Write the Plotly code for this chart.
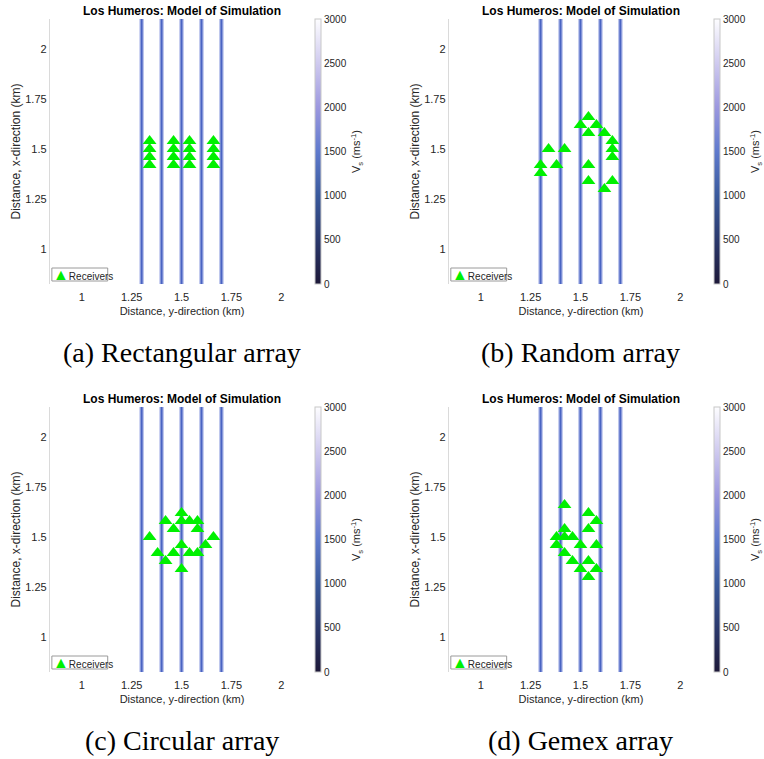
import plotly.graph_objects as go

# ---------------- data ----------------
line_positions = [1.3, 1.4, 1.5, 1.6, 1.7]          # y-direction (km) of the vertical features
tick_vals = [1, 1.25, 1.5, 1.75, 2]
tick_text = ["1", "1.25", "1.5", "1.75", "2"]
cbar_ticks = [0, 500, 1000, 1500, 2000, 2500, 3000]
cbar_limits = [0, 3000]

rect_ydir = [1.34, 1.34, 1.34, 1.34, 1.46, 1.46, 1.46, 1.46,
             1.54, 1.54, 1.54, 1.54, 1.66, 1.66, 1.66, 1.66]
rect_xdir = [1.42, 1.46, 1.50, 1.54, 1.42, 1.46, 1.50, 1.54,
             1.42, 1.46, 1.50, 1.54, 1.42, 1.46, 1.50, 1.54]

rand_ydir = [1.54, 1.50, 1.58, 1.54, 1.62, 1.66, 1.66, 1.66, 1.34,
             1.42, 1.38, 1.30, 1.30, 1.54, 1.54, 1.66, 1.62]
rand_xdir = [1.66, 1.62, 1.62, 1.58, 1.58, 1.54, 1.50, 1.46, 1.50,
             1.50, 1.42, 1.42, 1.38, 1.42, 1.34, 1.34, 1.30]

circ_ydir = [1.50, 1.42, 1.50, 1.54, 1.58, 1.46, 1.58, 1.34, 1.66,
             1.50, 1.62, 1.38, 1.46, 1.54, 1.58, 1.42, 1.50]
circ_xdir = [1.62, 1.58, 1.58, 1.58, 1.58, 1.54, 1.54, 1.50, 1.50,
             1.46, 1.46, 1.42, 1.42, 1.42, 1.42, 1.38, 1.34]

gemex_ydir = [1.42, 1.54, 1.58, 1.42, 1.54, 1.38, 1.42, 1.46, 1.38,
              1.50, 1.58, 1.42, 1.46, 1.54, 1.50, 1.58, 1.54]
gemex_xdir = [1.66, 1.62, 1.58, 1.54, 1.54, 1.50, 1.50, 1.50, 1.46,
              1.46, 1.46, 1.42, 1.38, 1.38, 1.34, 1.34, 1.30]

panels = [
    ("(a) Rectangular array", rect_ydir, rect_xdir),
    ("(b) Random array", rand_ydir, rand_xdir),
    ("(c) Circular array", circ_ydir, circ_xdir),
    ("(d) Gemex array", gemex_ydir, gemex_xdir),
]

# ---------------- styling ----------------
W, H = 764, 759
X_RANGE = [0.84, 2.165]
Y_RANGE = [0.825, 2.15]
colorscale = [
    [0.0, "#1d1838"], [0.167, "#2a386c"], [0.333, "#39599c"],
    [0.5, "#5f7acd"], [0.667, "#9c98df"], [0.833, "#cfcaef"], [1.0, "#fdfdff"],
]
SANS = "Liberation Sans, Arial, Helvetica, sans-serif"
SERIF = "Liberation Serif, Times New Roman, serif"
TXT = "#262626"

# pixel boxes of the plot areas: (left, right, top, bottom)
boxes = [(50, 315, 19, 284), (450, 715, 19, 284),
         (50, 315, 407, 672), (450, 715, 407, 672)]

fig = go.Figure()
annotations = []
shapes = []

for i, ((caption, ydir, xdir), (l, r, t, b)) in enumerate(zip(panels, boxes)):
    n = "" if i == 0 else str(i + 1)
    xa, ya = "x" + n, "y" + n
    dx = [l / W, r / W]
    dy = [1 - b / H, 1 - t / H]

    # vertical features
    for pos in line_positions:
        fig.add_trace(go.Scatter(x=[pos, pos], y=Y_RANGE, mode="lines",
                                 line=dict(color="#b3bdea", width=4.5),
                                 xaxis=xa, yaxis=ya, showlegend=False, hoverinfo="skip"))
        fig.add_trace(go.Scatter(x=[pos, pos], y=Y_RANGE, mode="lines",
                                 line=dict(color="#4a64c2", width=2),
                                 xaxis=xa, yaxis=ya, showlegend=False, hoverinfo="skip"))
    # receivers
    fig.add_trace(go.Scatter(x=ydir, y=xdir, mode="markers", name="Receivers",
                             marker=dict(symbol="triangle-up", size=12, color="#00f000",
                                         line=dict(width=0)),
                             xaxis=xa, yaxis=ya, showlegend=False))
    # colorbar carrier (invisible)
    fig.add_trace(go.Scatter(
        x=[None, None], y=[None, None], mode="markers", opacity=0,
        marker=dict(size=1, color=cbar_limits, cmin=cbar_limits[0], cmax=cbar_limits[1],
                    colorscale=colorscale, showscale=True, line=dict(width=0),
                    colorbar=dict(
                        x=(r + 1) / W, xanchor="left", xref="paper",
                        y=1 - (t + b) / 2 / H, yanchor="middle",
                        len=(b - t), lenmode="pixels",
                        thickness=6, thicknessmode="pixels",
                        outlinecolor="#c8c8c8", outlinewidth=1,
                        tickvals=cbar_ticks, ticks="", ticklabelposition="outside",
                        tickfont=dict(family=SANS, size=10, color=TXT),
                        xpad=0, ypad=0,
                        title=dict(text="V<sub>s</sub> (ms<sup>-1</sup>)", side="right",
                                   font=dict(family=SANS, size=11, color=TXT)),
                    )),
        xaxis=xa, yaxis=ya, showlegend=False, hoverinfo="skip"))

    fig.layout["xaxis" + n] = dict(
        domain=dx, range=X_RANGE, anchor=ya, tickvals=tick_vals, ticktext=tick_text,
        showgrid=False, zeroline=False, showline=False, ticks="outside", ticklen=3,
        tickcolor="rgba(0,0,0,0)",
        tickfont=dict(family=SANS, size=11, color=TXT),
        title=dict(text="Distance, y-direction (km)", standoff=5,
                   font=dict(family=SANS, size=11, color=TXT)))
    fig.layout["yaxis" + n] = dict(
        domain=dy, range=Y_RANGE, anchor=xa, tickvals=tick_vals, ticktext=tick_text,
        showgrid=False, zeroline=False, showline=True, linecolor="#dadada", linewidth=1,
        ticks="", tickfont=dict(family=SANS, size=11, color=TXT),
        title=dict(text="Distance, x-direction (km)", standoff=2,
                   font=dict(family=SANS, size=12, color=TXT)))

    # panel title
    annotations.append(dict(text="<b>Los Humeros: Model of Simulation</b>",
                            x=(l + r) / 2 / W, y=1 - (t - 8) / H, xref="paper", yref="paper",
                            xanchor="center", yanchor="middle", showarrow=False,
                            font=dict(family=SANS, size=12, color="#000000")))
    # caption
    annotations.append(dict(text=caption, x=(l + r) / 2 / W,
                            y=1 - (b + 68) / H, xref="paper", yref="paper",
                            xanchor="center", yanchor="middle", showarrow=False,
                            font=dict(family=SERIF, size=28, color="#000000")))
    # legend box
    shapes.append(dict(type="rect", xref=xa + " domain", yref=ya + " domain",
                       x0=2 / (r - l), x1=58 / (r - l), y0=3 / (b - t), y1=16 / (b - t),
                       line=dict(color="#9a9a9a", width=1), fillcolor="white", layer="above"))
    annotations.append(dict(text="<span style='color:#00f000;font-size:16px'>▲</span>Receivers",
                            x=1 / (r - l), y=10 / (b - t), xref=xa + " domain", yref=ya + " domain",
                            xanchor="left", yanchor="middle", showarrow=False,
                            font=dict(family=SANS, size=10, color=TXT)))

fig.update_layout(width=W, height=H, margin=dict(l=0, r=0, t=0, b=0),
                  paper_bgcolor="white", plot_bgcolor="white",
                  annotations=annotations, shapes=shapes, showlegend=False)
fig.write_html("out.html")
